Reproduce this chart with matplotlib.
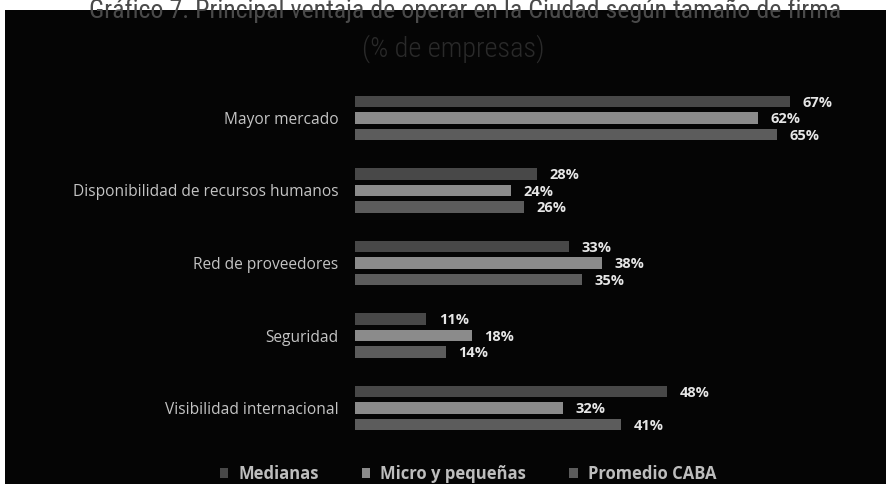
import matplotlib
matplotlib.use("Agg")
import matplotlib.pyplot as plt
from matplotlib.patches import Rectangle
import numpy as np

# data
categorias = ["Mayor mercado", "Disponibilidad de recursos humanos",
              "Red de proveedores", "Seguridad", "Visibilidad internacional"]
medianas = [67, 28, 33, 11, 48]
micro_pequenas = [62, 24, 38, 18, 32]
promedio_caba = [65, 26, 35, 14, 41]
series = ["Medianas", "Micro y pequeñas", "Promedio CABA"]
colores = ["#484848", "#8b8b8b", "#5c5c5c"]

W, H = 887, 484
fig = plt.figure(figsize=(W / 100, H / 100), dpi=100, facecolor="white")

# black panel behind the chart
fig.patches.append(Rectangle((5 / W, 0), 1 - 5 / W, 1 - 10 / H,
                             transform=fig.transFigure, facecolor="#050505",
                             edgecolor="none", zorder=-5))

narrow = ["Liberation Sans Narrow", "Roboto Condensed", "DejaVu Sans"]
titulo = fig.text(465 / W, 1 - 18 / H,
                  "Gráfico 7. Principal ventaja de operar en la Ciudad según tamaño de firma",
                  ha="center", va="baseline", fontsize=20, color="#4a4a4a",
                  family=narrow, fontstretch="condensed", zorder=3)
subtitulo = fig.text(453 / W, 1 - 57 / H, "(% de empresas)", ha="center", va="baseline",
                     fontsize=18, color="#2a2a2a", family=narrow,
                     fontstretch="condensed", fontweight="light", zorder=3)

# fit the heading widths to the space they take in the layout
fig.canvas.draw()
r = fig.canvas.get_renderer()
for t, target in [(titulo, 752), (subtitulo, 182)]:
    w = t.get_window_extent(r).width
    t.set_fontsize(t.get_fontsize() * target / w)

# axes in pixel terms: bars start at x=355, 6.5 px per percent
left, right = 355, 880
top, bottom = 80, 445
ax = fig.add_axes([left / W, 1 - bottom / H, (right - left) / W, (bottom - top) / H])
ax.set_facecolor("none")
ax.set_xlim(0, (right - left) / 6.5)
pitch = 72.5
y0 = (118 - top) / pitch
ax.set_ylim(-y0 + (bottom - top) / pitch, -y0)

y = np.arange(len(categorias))
off = 16.5 / pitch
h = 11.5 / pitch
for k, (vals, col) in enumerate(zip([medianas, micro_pequenas, promedio_caba], colores)):
    pos = y + (k - 1) * off
    ax.barh(pos, vals, height=h, color=col, label=series[k])
    for p, v in zip(pos, vals):
        ax.annotate(f"{v}%", (v, p), xytext=(9, -1), textcoords="offset points",
                    ha="left", va="center", fontsize=10.5, fontweight="bold",
                    color="#e6e6e6", family="Open Sans")

ax.set_yticks(y)
ax.set_yticklabels(categorias, fontsize=11.2, color="#c4c4c4", family="Open Sans")
ax.tick_params(axis="y", length=0, pad=12)
ax.set_xticks([])
for s in ax.spines.values():
    s.set_visible(False)

leg = fig.legend(loc="center", bbox_to_anchor=(468 / W, 1 - 474 / H), ncol=3,
                 frameon=False, handlelength=0.5, handleheight=0.5,
                 handletextpad=0.6, columnspacing=2.6,
                 prop={"family": "Open Sans", "weight": "bold", "size": 12})
for t in leg.get_texts():
    t.set_color("#bdbdbd")

fig.savefig("out.png", dpi=100, facecolor="white")
